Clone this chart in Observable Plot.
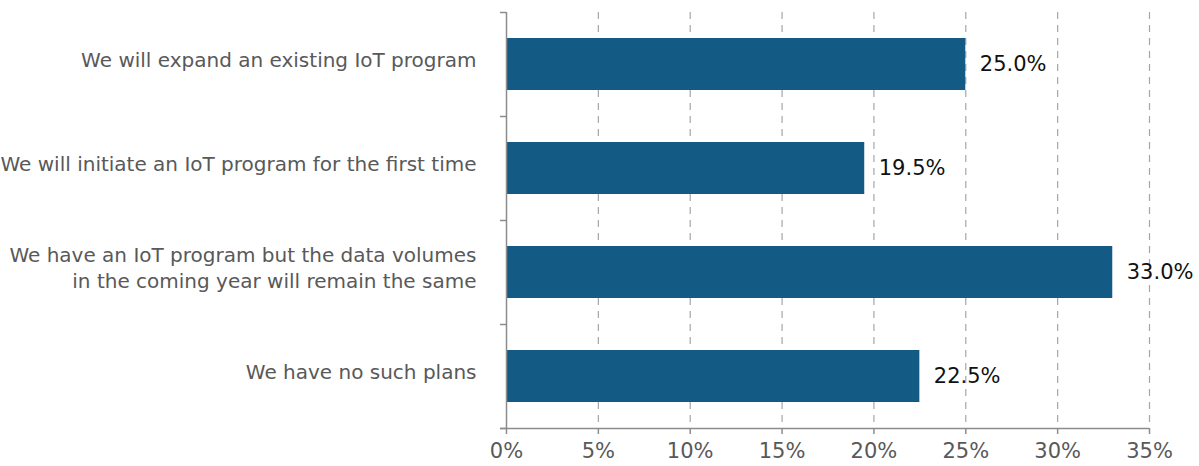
<!DOCTYPE html>
<html>
<head>
<meta charset="utf-8">
<script src="https://cdn.jsdelivr.net/npm/d3@7"></script>
<script src="https://cdn.jsdelivr.net/npm/@observablehq/plot@0.6"></script>
<style>
  html, body { margin: 0; padding: 0; background: #fff; }
  #chart svg { display: block; }
</style>
</head>
<body>
<div id="chart"></div>
<script>
const categories = [
  "We will expand an existing IoT program",
  "We will initiate an IoT program for the first time",
  "We have an IoT program but the data volumes\nin the coming year will remain the same",
  "We have no such plans"
];
const values = [25.0, 19.5, 33.0, 22.5];
const xTicks = [0, 5, 10, 15, 20, 25, 30, 35];

const data = categories.map((c, i) => ({label: c, value: values[i], i}));

const font = "'DejaVu Sans', sans-serif";
const gray = "#595959";
const axisGray = "#8c8c8c";

const chart = Plot.plot({
  width: 1199,
  height: 466,
  marginLeft: 506,
  marginRight: 50,
  marginTop: 12,
  marginBottom: 38,
  style: {fontFamily: font, background: "#fff"},
  x: {domain: [0, 35], label: null},
  y: {domain: [0, 4], reverse: true, label: null},
  marks: [
    Plot.ruleX(xTicks.filter(d => d > 0), {y1: 0, y2: 4, stroke: "#a6a6a6", strokeDasharray: "7,6", strokeWidth: 1.2}),
    Plot.rectX(data, {x1: 0, x2: "value", y1: "i", y2: d => d.i + 1, insetTop: 26, insetBottom: 26, fill: "#135a85"}),
    Plot.ruleX([0], {y1: 0, y2: 4, stroke: axisGray, strokeWidth: 1.5}),
    Plot.ruleY([4], {x1: 0, x2: 35, insetLeft: -6, stroke: axisGray, strokeWidth: 1.5}),
    Plot.axisY({ticks: [0, 1, 2, 3, 4], tickFormat: () => "", tickSize: 6, stroke: axisGray, strokeWidth: 1.5, label: null}),
    Plot.axisX({ticks: xTicks, tickFormat: d => d + "%", tickSize: 6, tickPadding: 9, stroke: axisGray, strokeWidth: 1.5, fontSize: 21, fill: gray, label: null}),
    Plot.text(data, {x: 0, y: d => d.i + 0.5, text: "label", textAnchor: "end", dx: -30, dy: -6, fontSize: 20, fill: gray, lineHeight: 1.3}),
    Plot.text(data, {x: "value", y: d => d.i + 0.5, text: d => d.value.toFixed(1) + "%", textAnchor: "start", dx: 14, fontSize: 21, fill: "#111"})
  ]
});
document.getElementById("chart").appendChild(chart);
</script>
</body>
</html>
